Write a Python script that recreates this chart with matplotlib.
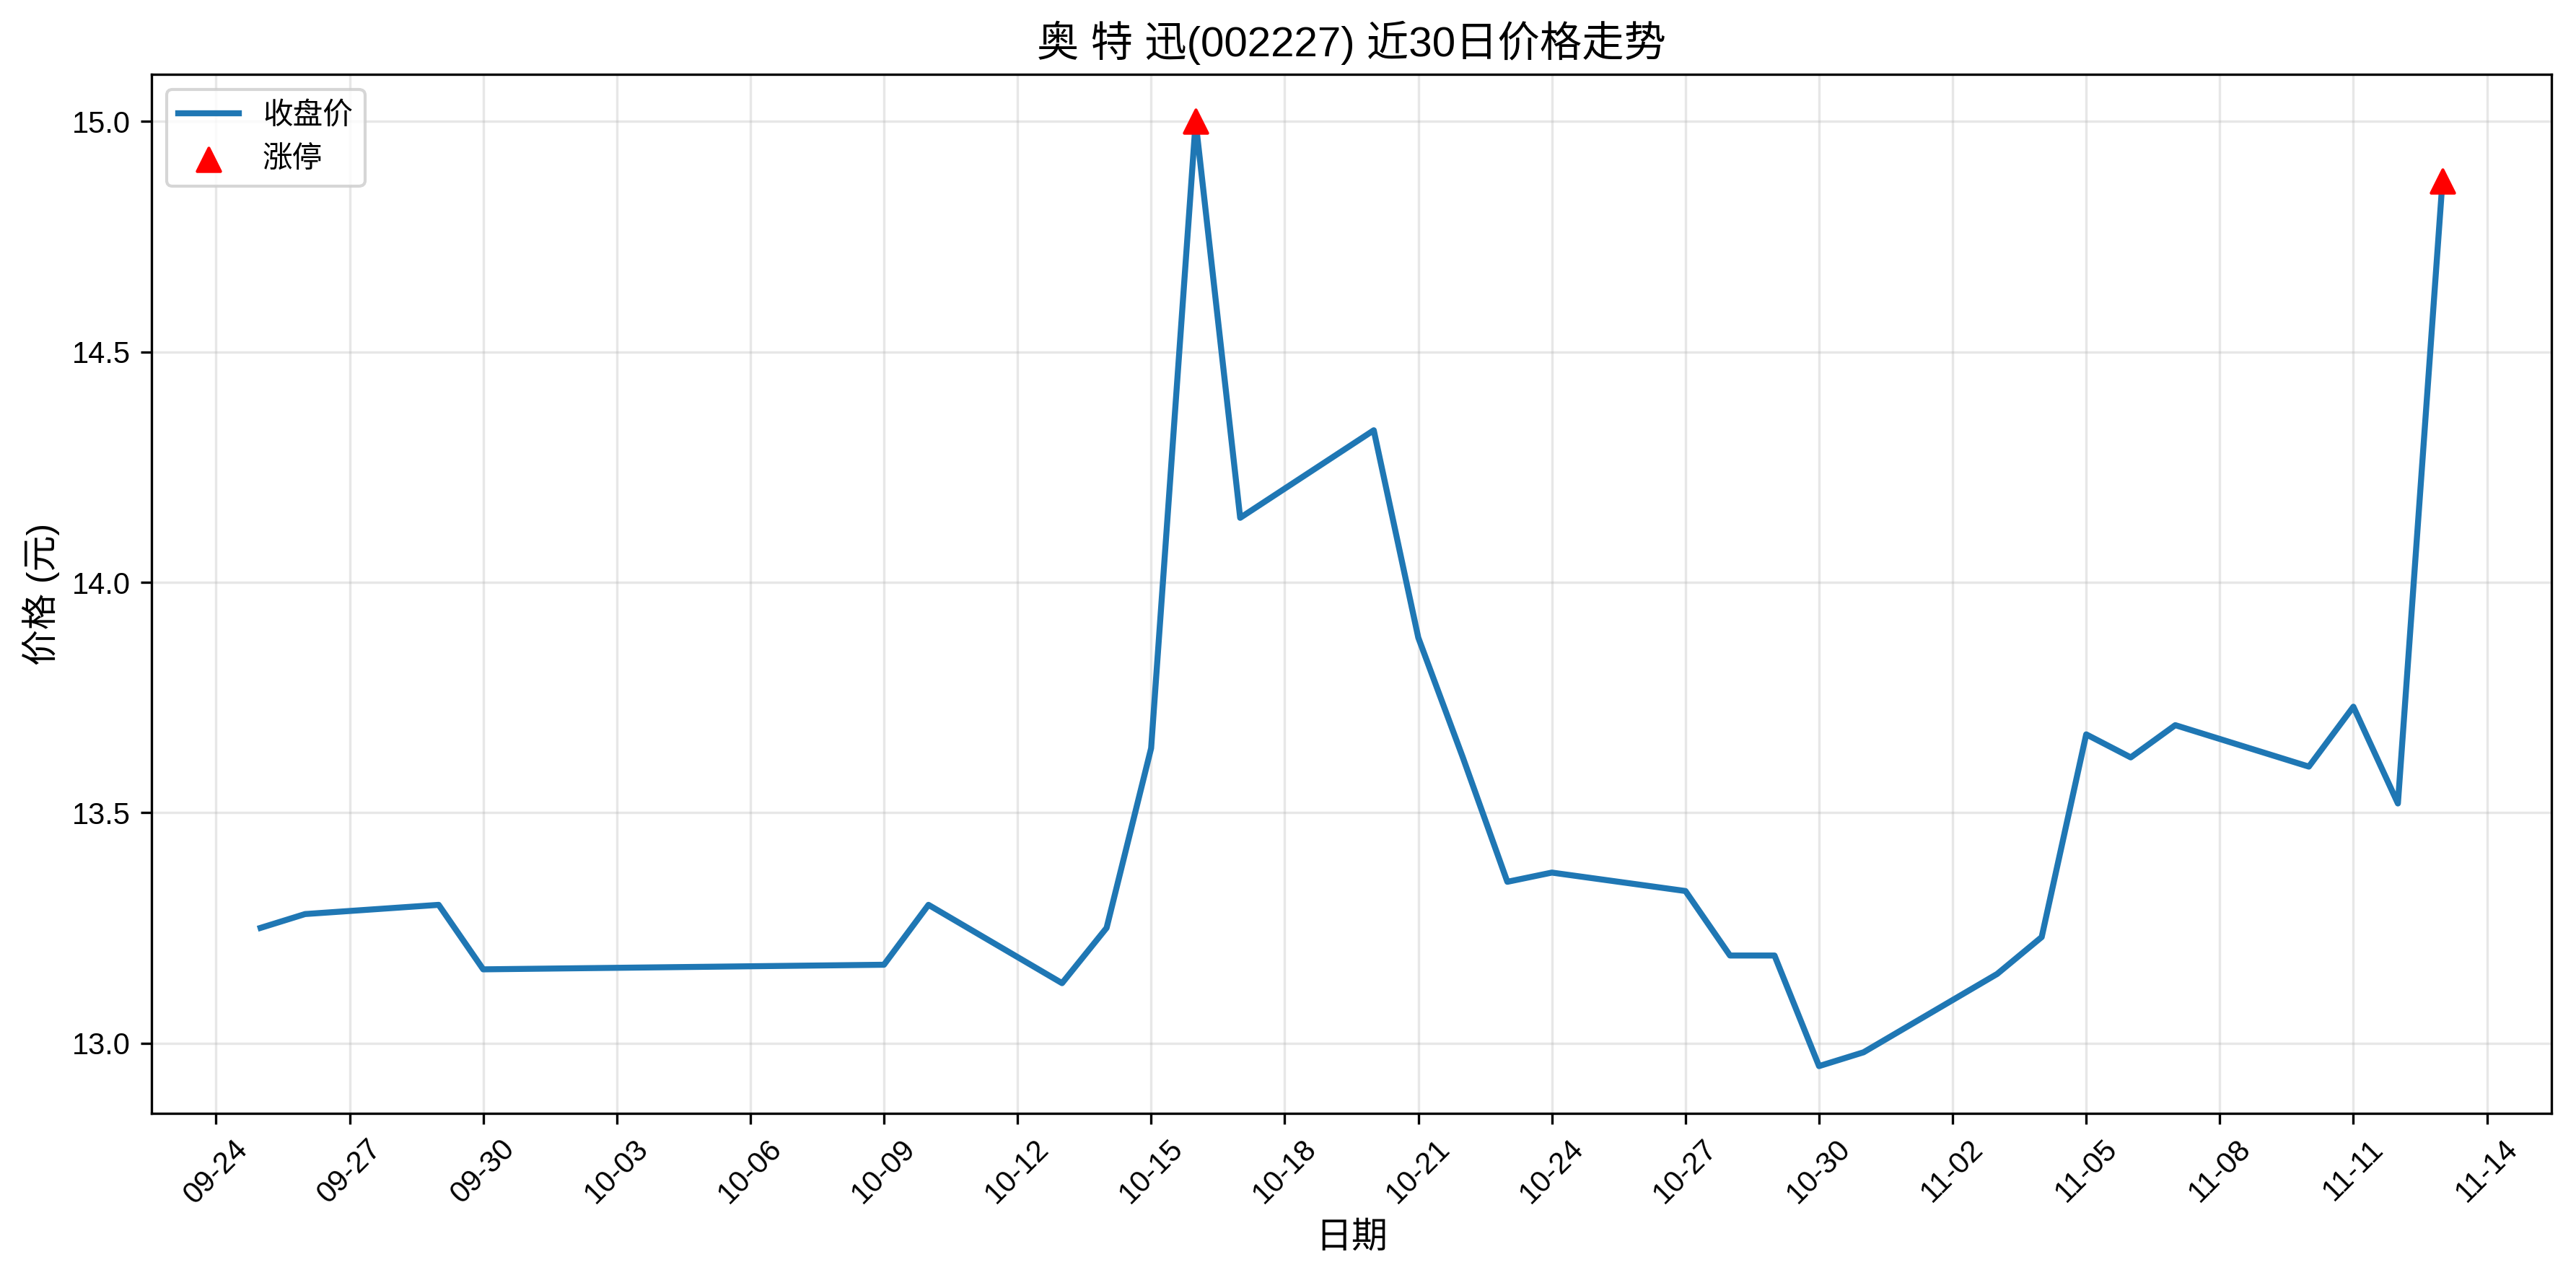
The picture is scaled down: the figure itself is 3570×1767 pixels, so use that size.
import pandas as pd
import matplotlib
matplotlib.use('Agg')
import matplotlib.pyplot as plt
import matplotlib.dates as mdates

# fonts: latin in an Arial-like face, chinese from noto cjk
plt.rcParams['font.family'] = ['Liberation Sans', 'Noto Sans CJK SC']
plt.rcParams['axes.unicode_minus'] = False

# closing prices
dates = ['2025-09-25', '2025-09-26', '2025-09-29', '2025-09-30', '2025-10-09',
         '2025-10-10', '2025-10-13', '2025-10-14', '2025-10-15', '2025-10-16',
         '2025-10-17', '2025-10-20', '2025-10-21', '2025-10-22', '2025-10-23',
         '2025-10-24', '2025-10-27', '2025-10-28', '2025-10-29', '2025-10-30',
         '2025-10-31', '2025-11-03', '2025-11-04', '2025-11-05', '2025-11-06',
         '2025-11-07', '2025-11-10', '2025-11-11', '2025-11-12', '2025-11-13']
close = [13.25, 13.28, 13.30, 13.16, 13.17,
         13.30, 13.13, 13.25, 13.64, 15.00,
         14.14, 14.33, 13.88, 13.62, 13.35,
         13.37, 13.33, 13.19, 13.19, 12.95,
         12.98, 13.15, 13.23, 13.67, 13.62,
         13.69, 13.60, 13.73, 13.52, 14.87]
limit_up_dates = ['2025-10-16', '2025-11-13']
limit_up_prices = [15.00, 14.87]

title = '奥 特 迅(002227) 近30日价格走势'

dates = pd.to_datetime(dates)
limit_up_dates = pd.to_datetime(limit_up_dates)

fig = plt.figure(figsize=(11.9, 5.89), dpi=300)
ax = fig.add_axes([0.0588, 0.1268, 0.9317, 0.8149])

ax.plot(dates, close, color='#1f77b4', linewidth=2, label='收盘价')
ax.scatter(limit_up_dates, limit_up_prices, color='red', marker='^', s=60,
           zorder=5, label='涨停')

ax.set_title(title, fontsize=14)
ax.set_xlabel('日期', fontsize=12)
ax.set_ylabel('价格 (元)', fontsize=12)
ax.grid(True, alpha=0.3)
ax.legend(loc='upper left', fontsize=10)

# ticks every 3 days
ax.xaxis.set_major_locator(mdates.DayLocator(interval=3))
ax.xaxis.set_major_formatter(mdates.DateFormatter('%m-%d'))
plt.setp(ax.get_xticklabels(), rotation=45)
ax.tick_params(labelsize=10)

fig.savefig('out.png', dpi=300)
